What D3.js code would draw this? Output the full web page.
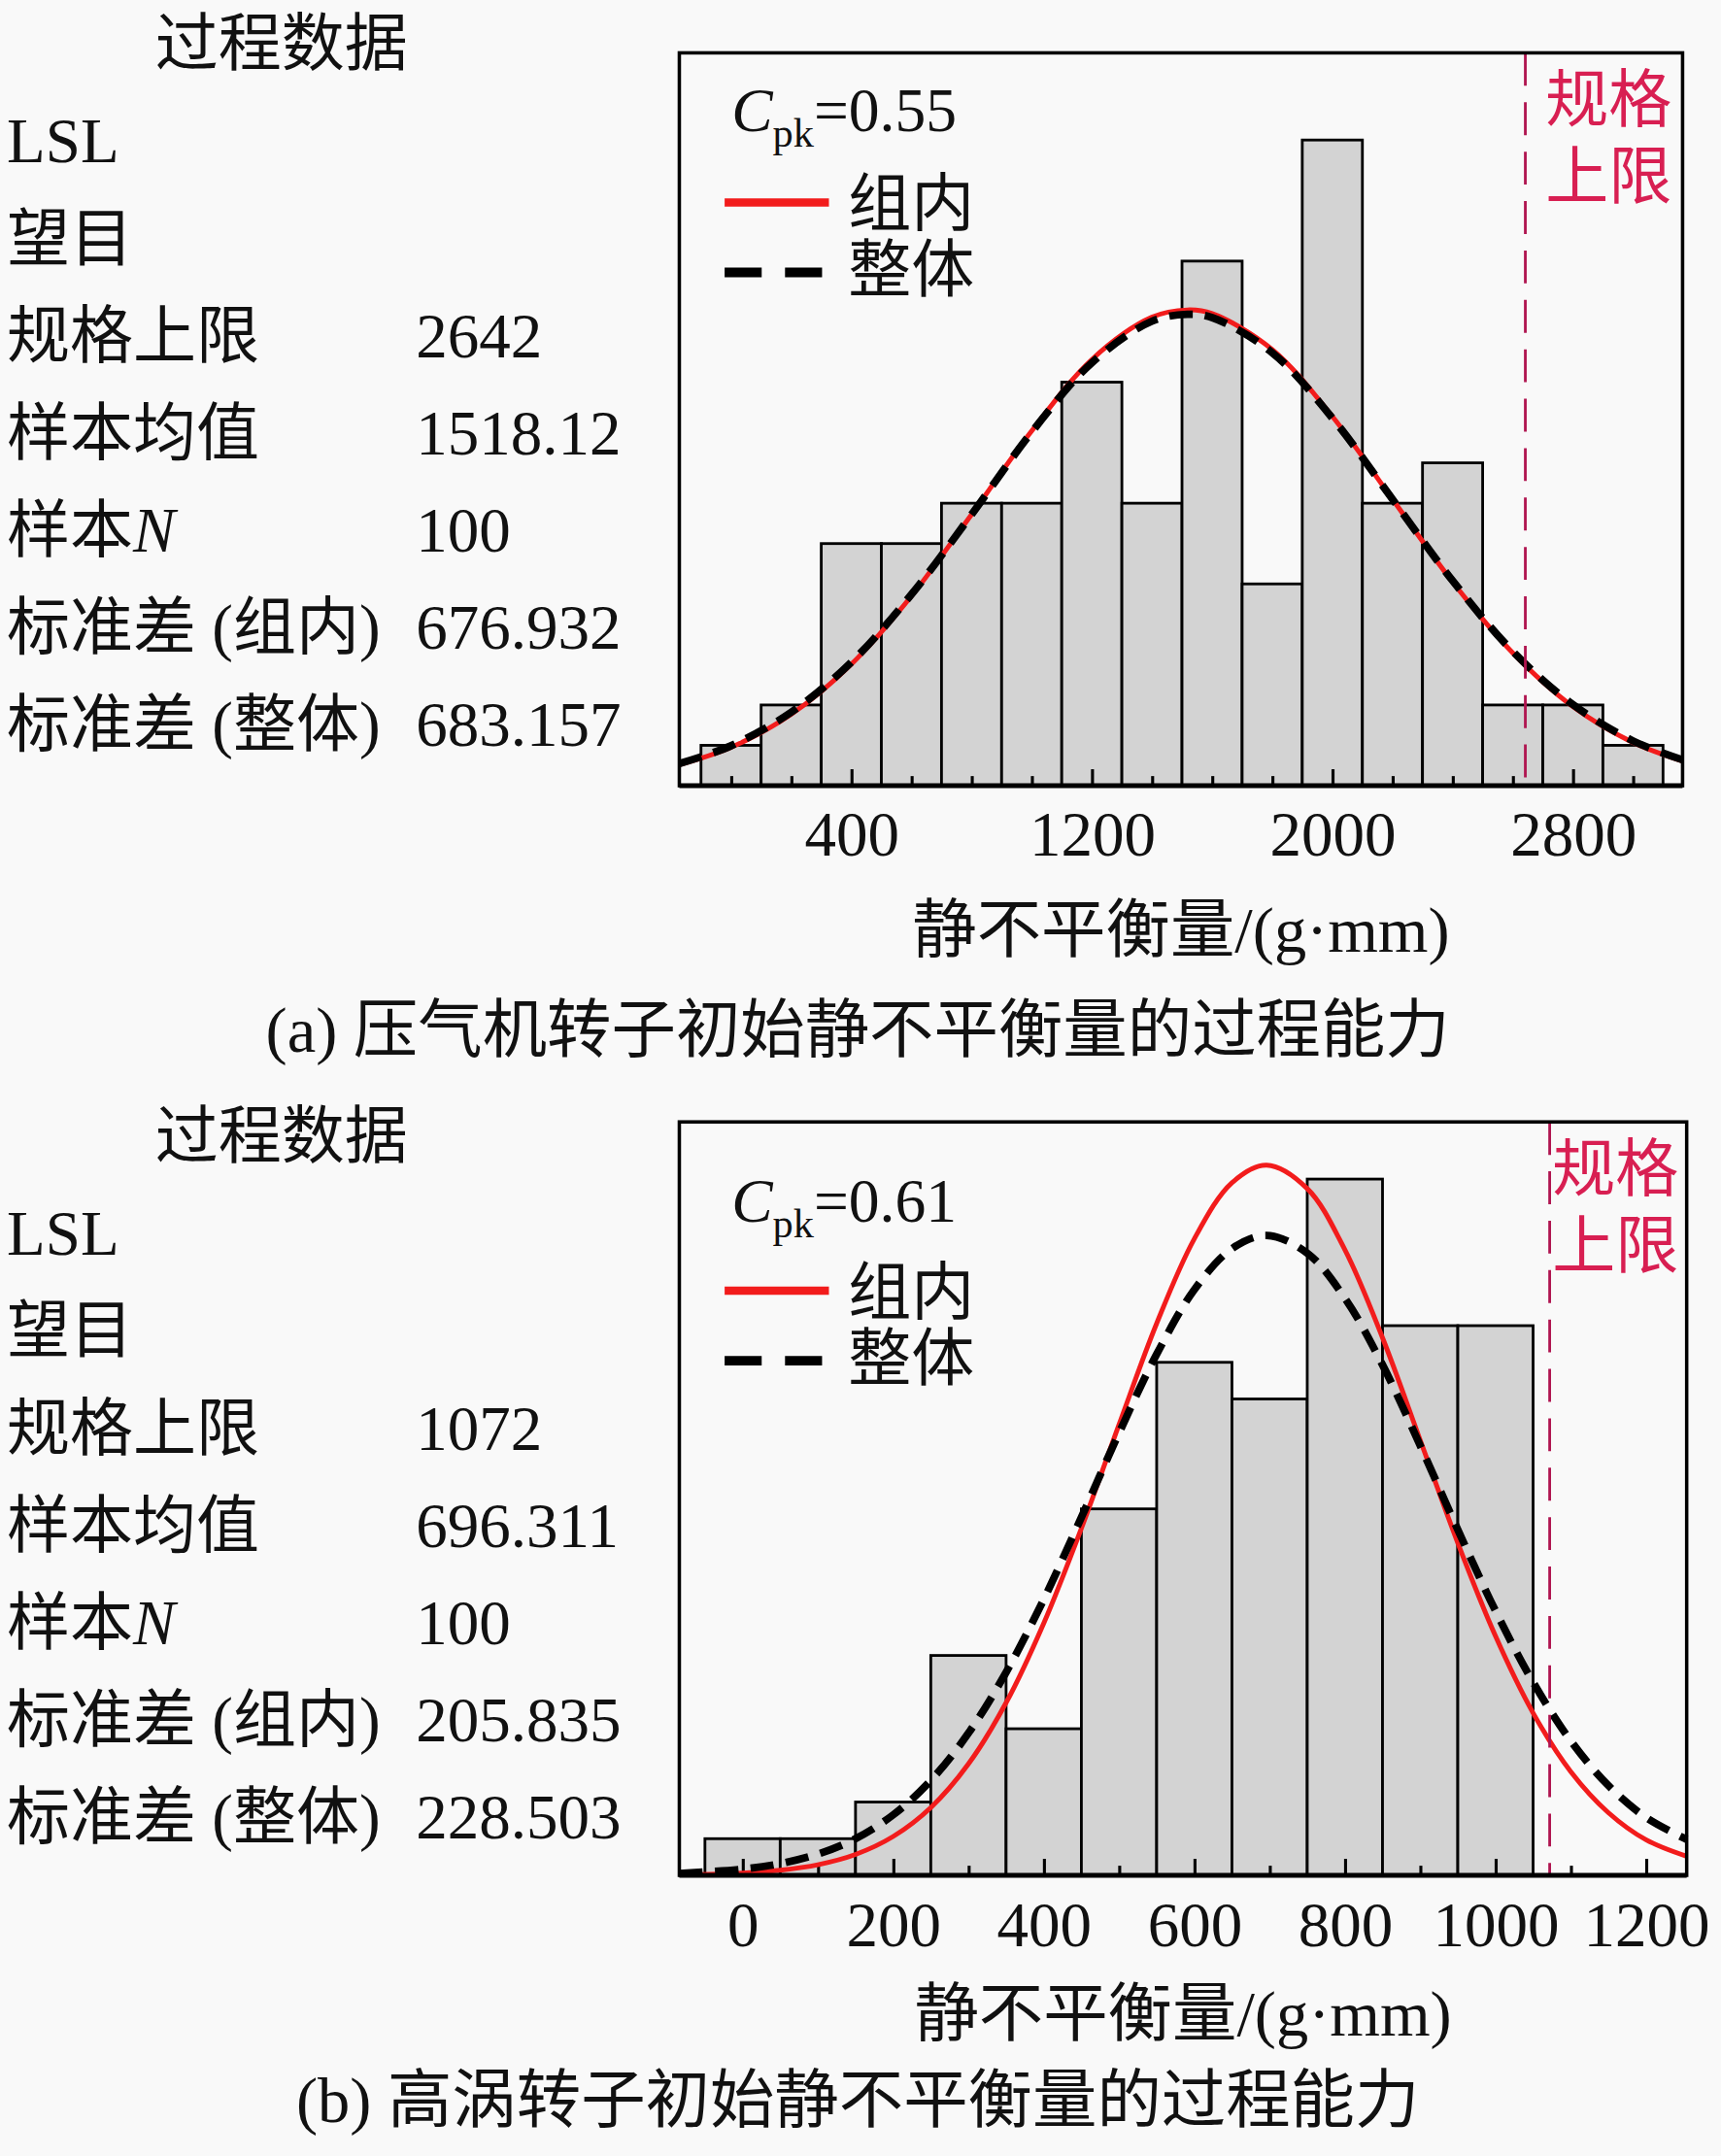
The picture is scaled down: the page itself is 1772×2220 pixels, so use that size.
<!DOCTYPE html>
<html>
<head>
<meta charset="utf-8">
<script src="https://cdn.jsdelivr.net/npm/d3@7"></script>
<style>
  body { margin: 0; background: #f9f9f9; }
  svg { display: block; }
  text { font-family: 'Liberation Serif', 'Times New Roman', 'Noto Sans CJK SC', serif; fill: #111; }
</style>
</head>
<body>
<div id="chart"></div>
<script>
// ---- shared table labels ----
const rowLabels = ['LSL', '望目', '规格上限', '样本均值', '样本N', '标准差 (组内)', '标准差 (整体)'];

// ---- panel (a): 压气机转子 ----
const edgesA = [-100, 100, 300, 500, 700, 900, 1100, 1300, 1500, 1700, 1900, 2100, 2300, 2500, 2700, 2900, 3100];
const countsA = [1, 2, 6, 6, 7, 7, 10, 7, 13, 5, 16, 7, 8, 2, 2, 1];
const curveXA = [-172, 0, 200, 400, 600, 800, 1000, 1200, 1400, 1518, 1600, 1800, 2000, 2200, 2400, 2600, 2800, 3000, 3165];
const withinA = [0.52, 0.95, 1.77, 3.01, 4.70, 6.72, 8.79, 10.56, 11.61, 11.79, 11.70, 10.81, 9.15, 7.10, 5.05, 3.29, 1.96, 1.07, 0.61];
const overallA = [0.55, 0.99, 1.82, 3.06, 4.74, 6.72, 8.76, 10.48, 11.51, 11.68, 11.60, 10.73, 9.11, 7.10, 5.08, 3.33, 2.01, 1.11, 0.64];
const ticksA = [0, 200, 400, 600, 800, 1000, 1200, 1400, 1600, 1800, 2000, 2200, 2400, 2600, 2800, 3000];
const labelTicksA = [400, 1200, 2000, 2800];
const uslA = 2642;
const cpkA = '0.55';
const valuesA = ['', '', '2642', '1518.12', '100', '676.932', '683.157'];
const captionA = '(a) 压气机转子初始静不平衡量的过程能力';

// ---- panel (b): 高涡转子 ----
const edgesB = [-50, 50, 150, 250, 350, 450, 550, 650, 750, 850, 950, 1050];
const countsB = [1, 1, 2, 6, 4, 10, 14, 13, 19, 15, 15];
const curveXB = [-84, 0, 50, 100, 150, 200, 250, 300, 350, 400, 450, 500, 550, 600, 650, 696, 750, 800, 850, 900, 950, 1000, 1050, 1100, 1150, 1200, 1254];
const withinB = [0.01, 0.06, 0.14, 0.29, 0.57, 1.06, 1.85, 3.04, 4.71, 6.88, 9.47, 12.30, 15.06, 17.37, 18.90, 19.38, 18.74, 17.07, 14.67, 11.88, 9.07, 6.53, 4.43, 2.83, 1.71, 0.97, 0.52];
const overallB = [0.05, 0.17, 0.32, 0.58, 1.00, 1.65, 2.59, 3.88, 5.54, 7.53, 9.77, 12.07, 14.22, 15.98, 17.10, 17.46, 16.98, 15.75, 13.93, 11.73, 9.43, 7.22, 5.27, 3.67, 2.45, 1.58, 0.98];
const ticksB = [0, 100, 200, 300, 400, 500, 600, 700, 800, 900, 1000, 1100, 1200];
const labelTicksB = [0, 200, 400, 600, 800, 1000, 1200];
const uslB = 1072;
const cpkB = '0.61';
const valuesB = ['', '', '1072', '696.311', '100', '205.835', '228.503'];
const captionB = '(b) 高涡转子初始静不平衡量的过程能力';

const W = 1254, H = 1568;

const svg = d3.select('#chart')
  .append('svg')
  .attr('width', 1772)
  .attr('height', 2220)
  .attr('viewBox', `0 0 ${W} ${H}`);

svg.append('rect').attr('width', W).attr('height', H).attr('fill', '#f9f9f9');

const panels = [
  {
    edges: edgesA, counts: countsA, curveX: curveXA, within: withinA, overall: overallA,
    ticks: ticksA, labelTicks: labelTicksA, usl: uslA, cpk: cpkA, values: valuesA, caption: captionA,
    frame: { left: 495, right: 1226, top: 37, bottom: 571 }, xDomain: [-172, 3165], yMax: 18.16,
    tableTop: 46, cpkY: 94, legendY: [146, 197], specY: [87, 143], specX: 1126,
    titleY: 692, captionY: 765, tickPad: 18,
  },
  {
    edges: edgesB, counts: countsB, curveX: curveXB, within: withinB, overall: overallB,
    ticks: ticksB, labelTicks: labelTicksB, usl: uslB, cpk: cpkB, values: valuesB, caption: captionB,
    frame: { left: 495, right: 1229, top: 816, bottom: 1365 }, xDomain: [-84, 1254], yMax: 20.56,
    tableTop: 842, cpkY: 889, legendY: [939, 990], specY: [866, 922], specX: 1131,
    titleY: 1482, captionY: 1545, tickPad: 19,
  },
];

panels.forEach(drawPanel);

function drawPanel(p) {
  const f = p.frame;
  const g = svg.append('g');

  // left table: 过程数据
  const rowGap = 70.9;
  g.append('text').attr('x', 113).attr('y', p.tableTop).attr('font-size', 46).text('过程数据');
  rowLabels.forEach((label, i) => {
    const y = p.tableTop + rowGap * (i + 1);
    const t = g.append('text').attr('x', 5).attr('y', y).attr('font-size', 46);
    if (label === '样本N') {
      t.append('tspan').text('样本');
      t.append('tspan').attr('font-style', 'italic').text('N');
    } else {
      t.text(label);
    }
    if (p.values[i]) {
      g.append('text').attr('x', 303).attr('y', y).attr('font-size', 46).text(p.values[i]);
    }
  });

  const x = d3.scaleLinear().domain(p.xDomain).range([f.left, f.right]);
  const y = d3.scaleLinear().domain([0, p.yMax]).range([f.bottom, f.top]);

  // histogram bars
  g.append('g')
    .selectAll('rect')
    .data(p.counts)
    .join('rect')
    .attr('x', (d, i) => x(p.edges[i]))
    .attr('y', (d) => y(d))
    .attr('width', (d, i) => x(p.edges[i + 1]) - x(p.edges[i]))
    .attr('height', (d) => y(0) - y(d))
    .attr('fill', '#d3d3d3')
    .attr('stroke', '#000')
    .attr('stroke-width', 2);

  // minor + major ticks pointing inward
  const minor = d3.axisBottom(x)
    .tickValues(p.ticks.filter((t) => !p.labelTicks.includes(t)))
    .tickSize(-7)
    .tickFormat('');
  const major = d3.axisBottom(x)
    .tickValues(p.labelTicks)
    .tickSize(-12)
    .tickPadding(p.tickPad)
    .tickFormat(d3.format('d'));

  const gMinor = g.append('g').attr('transform', `translate(0,${f.bottom})`).call(minor);
  const gMajor = g.append('g').attr('transform', `translate(0,${f.bottom})`).call(major);
  [gMinor, gMajor].forEach((ax) => {
    ax.select('.domain').remove();
    ax.attr('font-family', null).attr('font-size', null);
    ax.selectAll('.tick line').attr('stroke', '#000').attr('stroke-width', 2.2);
  });
  gMajor.selectAll('.tick text')
    .attr('font-size', 46)
    .attr('fill', '#111');

  // fitted curves: 组内 (red) under 整体 (black dashed)
  const line = d3.line()
    .x((d) => x(d[0]))
    .y((d) => y(d[1]))
    .curve(d3.curveCatmullRom);

  g.append('path')
    .attr('d', line(p.curveX.map((v, i) => [v, p.within[i]])))
    .attr('fill', 'none')
    .attr('stroke', '#f21c1c')
    .attr('stroke-width', 3.5);

  g.append('path')
    .attr('d', line(p.curveX.map((v, i) => [v, p.overall[i]])))
    .attr('fill', 'none')
    .attr('stroke', '#000')
    .attr('stroke-width', 5.5)
    .attr('stroke-dasharray', '17,9');

  // spec upper limit
  g.append('line')
    .attr('x1', x(p.usl)).attr('x2', x(p.usl))
    .attr('y1', f.top).attr('y2', f.bottom)
    .attr('stroke', '#b01550')
    .attr('stroke-width', 2)
    .attr('stroke-dasharray', '24,12');
  ['规格', '上限'].forEach((s, i) => {
    g.append('text')
      .attr('x', p.specX).attr('y', p.specY[i])
      .attr('font-size', 46)
      .style('fill', '#d81f52')
      .text(s);
  });

  // frame
  g.append('rect')
    .attr('x', f.left).attr('y', f.top)
    .attr('width', f.right - f.left).attr('height', f.bottom - f.top)
    .attr('fill', 'none')
    .attr('stroke', '#000')
    .attr('stroke-width', 2.5);
  g.append('line')
    .attr('x1', f.left).attr('x2', f.right)
    .attr('y1', f.bottom).attr('y2', f.bottom)
    .attr('stroke', '#000')
    .attr('stroke-width', 3.5);

  // Cpk label
  const cpk = g.append('text').attr('x', 533).attr('y', p.cpkY).attr('font-size', 45);
  cpk.append('tspan').attr('font-style', 'italic').text('C');
  cpk.append('tspan').attr('font-size', 30).attr('dy', 11).text('pk');
  cpk.append('tspan').attr('dy', -11).text('=' + p.cpk);

  // legend
  g.append('line')
    .attr('x1', 528).attr('x2', 604)
    .attr('y1', p.legendY[0]).attr('y2', p.legendY[0])
    .attr('stroke', '#f21c1c').attr('stroke-width', 6);
  g.append('line')
    .attr('x1', 528).attr('x2', 599)
    .attr('y1', p.legendY[1]).attr('y2', p.legendY[1])
    .attr('stroke', '#000').attr('stroke-width', 7)
    .attr('stroke-dasharray', '27,17');
  g.append('text').attr('x', 618).attr('y', p.legendY[0] + 17).attr('font-size', 46).text('组内');
  g.append('text').attr('x', 618).attr('y', p.legendY[1] + 14).attr('font-size', 46).text('整体');

  // axis title and caption
  g.append('text')
    .attr('x', (f.left + f.right) / 2).attr('y', p.titleY)
    .attr('text-anchor', 'middle')
    .attr('font-size', 47)
    .text('静不平衡量/(g·mm)');
  g.append('text')
    .attr('x', 625).attr('y', p.captionY)
    .attr('text-anchor', 'middle')
    .attr('font-size', 47)
    .text(p.caption);
}
</script>
</body>
</html>
